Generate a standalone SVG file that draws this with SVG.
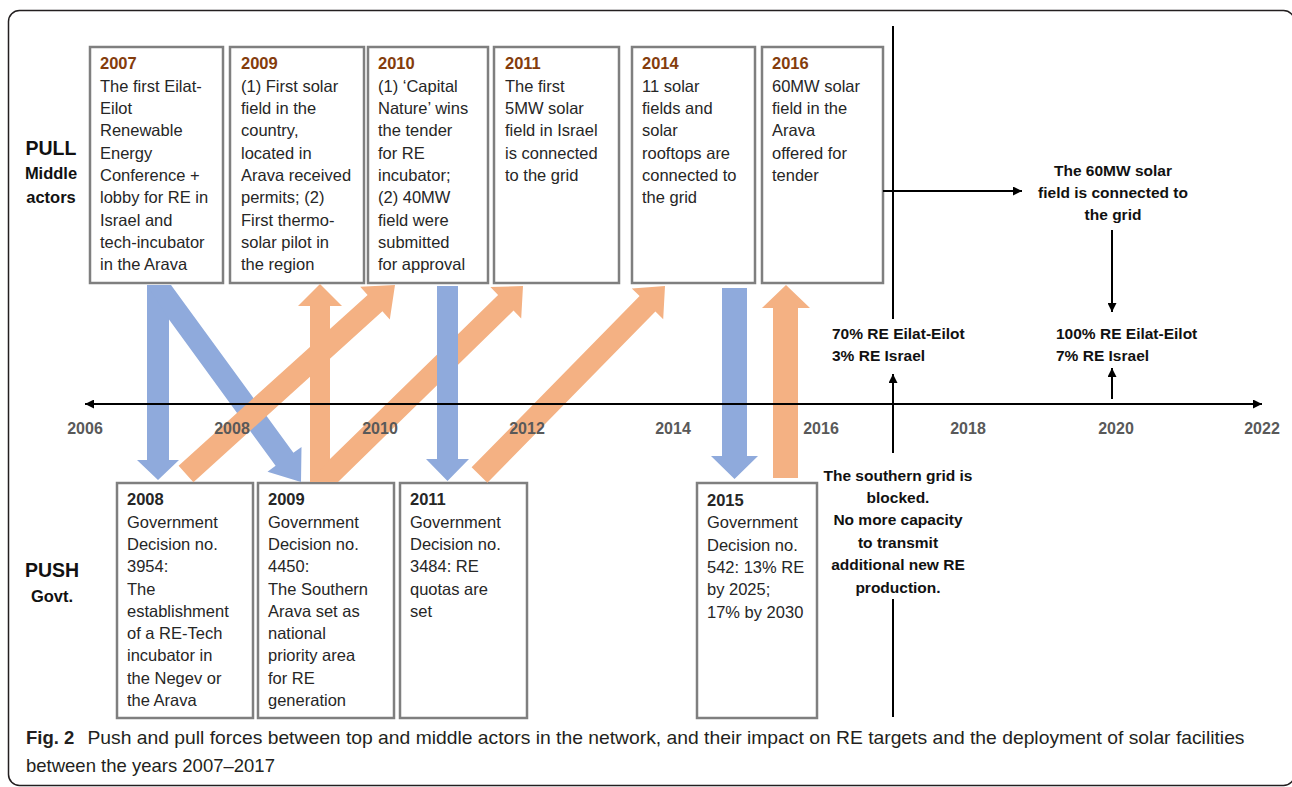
<svg xmlns="http://www.w3.org/2000/svg" width="1292" height="787" viewBox="0 0 1292 787">
<defs>
<style>
.box{fill:#fff;stroke:#7f7f7f;stroke-width:2.5}
.t{font-family:"Liberation Sans",Arial,sans-serif;font-size:16.5px;fill:#262626}
.yr{font-weight:bold;fill:#843C0C}
.yb{font-weight:bold;fill:#262626}
.b{font-family:"Liberation Sans",Arial,sans-serif;font-weight:bold;fill:#111}
.ax{font-family:"Liberation Sans",Arial,sans-serif;font-weight:bold;font-size:16px;fill:#595959;text-anchor:middle}
.blue{fill:#8FAADC}
.orange{fill:#F4B183}
.ln{stroke:#000;stroke-width:2;fill:none}
.cap{font-family:"Liberation Sans",Arial,sans-serif;font-size:18.5px;fill:#231F20}
</style>
<marker id="ah" viewBox="0 0 10 10" refX="10" refY="5" markerWidth="9" markerHeight="9" markerUnits="userSpaceOnUse" orient="auto-start-reverse"><path d="M0,0 L10,5 L0,10 z" fill="#000"/></marker>
</defs>
<rect x="8.5" y="10.5" width="1286" height="775" rx="11" fill="#fff" stroke="#231F20" stroke-width="1.5"/>

<g id="label-pull">
<text class="b" x="51" y="155" font-size="19.5" text-anchor="middle">PULL</text>
<text class="b" x="51" y="179" font-size="16.5" text-anchor="middle">Middle</text>
<text class="b" x="51" y="203" font-size="16.5" text-anchor="middle">actors</text>
</g>
<g id="label-push">
<text class="b" x="52" y="577" font-size="19.5" text-anchor="middle">PUSH</text>
<text class="b" x="52" y="602" font-size="16.5" text-anchor="middle">Govt.</text>
</g>

<g id="pull-2007">
<rect class="box" x="90" y="47" width="133" height="236"/>
<text class="t" x="100" y="69.4"><tspan class="yr">2007</tspan><tspan x="100" dy="22.33">The first Eilat-</tspan><tspan x="100" dy="22.33">Eilot</tspan><tspan x="100" dy="22.33">Renewable</tspan><tspan x="100" dy="22.33">Energy</tspan><tspan x="100" dy="22.33">Conference +</tspan><tspan x="100" dy="22.33">lobby for RE in</tspan><tspan x="100" dy="22.33">Israel and</tspan><tspan x="100" dy="22.33">tech-incubator</tspan><tspan x="100" dy="22.33">in the Arava</tspan></text>
</g>
<g id="pull-2009">
<rect class="box" x="230" y="47" width="134" height="236"/>
<text class="t" x="241" y="69.4"><tspan class="yr">2009</tspan><tspan x="241" dy="22.33">(1) First solar</tspan><tspan x="241" dy="22.33">field in the</tspan><tspan x="241" dy="22.33">country,</tspan><tspan x="241" dy="22.33">located in</tspan><tspan x="241" dy="22.33">Arava received</tspan><tspan x="241" dy="22.33">permits; (2)</tspan><tspan x="241" dy="22.33">First thermo-</tspan><tspan x="241" dy="22.33">solar pilot in</tspan><tspan x="241" dy="22.33">the region</tspan></text>
</g>
<g id="pull-2010">
<rect class="box" x="368" y="47" width="120" height="236"/>
<text class="t" x="378" y="69.4"><tspan class="yr">2010</tspan><tspan x="378" dy="22.33">(1) ‘Capital</tspan><tspan x="378" dy="22.33">Nature’ wins</tspan><tspan x="378" dy="22.33">the tender</tspan><tspan x="378" dy="22.33">for RE</tspan><tspan x="378" dy="22.33">incubator;</tspan><tspan x="378" dy="22.33">(2) 40MW</tspan><tspan x="378" dy="22.33">field were</tspan><tspan x="378" dy="22.33">submitted</tspan><tspan x="378" dy="22.33">for approval</tspan></text>
</g>
<g id="pull-2011">
<rect class="box" x="494" y="47" width="125" height="236"/>
<text class="t" x="505" y="69.4"><tspan class="yr">2011</tspan><tspan x="505" dy="22.33">The first</tspan><tspan x="505" dy="22.33">5MW solar</tspan><tspan x="505" dy="22.33">field in Israel</tspan><tspan x="505" dy="22.33">is connected</tspan><tspan x="505" dy="22.33">to the grid</tspan></text>
</g>
<g id="pull-2014">
<rect class="box" x="632" y="47" width="123" height="236"/>
<text class="t" x="642" y="69.4"><tspan class="yr">2014</tspan><tspan x="642" dy="22.33">11 solar</tspan><tspan x="642" dy="22.33">fields and</tspan><tspan x="642" dy="22.33">solar</tspan><tspan x="642" dy="22.33">rooftops are</tspan><tspan x="642" dy="22.33">connected to</tspan><tspan x="642" dy="22.33">the grid</tspan></text>
</g>
<g id="pull-2016">
<rect class="box" x="762" y="47" width="121" height="236"/>
<text class="t" x="772" y="69.4"><tspan class="yr">2016</tspan><tspan x="772" dy="22.33">60MW solar</tspan><tspan x="772" dy="22.33">field in the</tspan><tspan x="772" dy="22.33">Arava</tspan><tspan x="772" dy="22.33">offered for</tspan><tspan x="772" dy="22.33">tender</tspan></text>
</g>

<g id="push-2008">
<rect class="box" x="117" y="483" width="136" height="235"/>
<text class="t" x="127" y="505.3"><tspan class="yb">2008</tspan><tspan x="127" dy="22.3">Government</tspan><tspan x="127" dy="22.3">Decision no.</tspan><tspan x="127" dy="22.3">3954:</tspan><tspan x="127" dy="22.3">The</tspan><tspan x="127" dy="22.3">establishment</tspan><tspan x="127" dy="22.3">of a RE-Tech</tspan><tspan x="127" dy="22.3">incubator in</tspan><tspan x="127" dy="22.3">the Negev or</tspan><tspan x="127" dy="22.3">the Arava</tspan></text>
</g>
<g id="push-2009">
<rect class="box" x="258" y="483" width="136" height="235"/>
<text class="t" x="268" y="505.3"><tspan class="yb">2009</tspan><tspan x="268" dy="22.3">Government</tspan><tspan x="268" dy="22.3">Decision no.</tspan><tspan x="268" dy="22.3">4450:</tspan><tspan x="268" dy="22.3">The Southern</tspan><tspan x="268" dy="22.3">Arava set as</tspan><tspan x="268" dy="22.3">national</tspan><tspan x="268" dy="22.3">priority area</tspan><tspan x="268" dy="22.3">for RE</tspan><tspan x="268" dy="22.3">generation</tspan></text>
</g>
<g id="push-2011">
<rect class="box" x="400" y="483" width="127" height="235"/>
<text class="t" x="410" y="505.3"><tspan class="yb">2011</tspan><tspan x="410" dy="22.3">Government</tspan><tspan x="410" dy="22.3">Decision no.</tspan><tspan x="410" dy="22.3">3484: RE</tspan><tspan x="410" dy="22.3">quotas are</tspan><tspan x="410" dy="22.3">set</tspan></text>
</g>
<g id="push-2015">
<rect class="box" x="697" y="483" width="120" height="235"/>
<text class="t" x="707" y="506"><tspan class="yb">2015</tspan><tspan x="707" dy="22.3">Government</tspan><tspan x="707" dy="22.3">Decision no.</tspan><tspan x="707" dy="22.3">542: 13% RE</tspan><tspan x="707" dy="22.3">by 2025;</tspan><tspan x="707" dy="22.3">17% by 2030</tspan></text>
</g>

<g id="connectors">
<polygon class="blue" points="147,285 169,285 169,460 179,460 158,480 137,460 147,460"/>
<polygon class="blue" points="147,285 171,285 293.4,452.8 301.5,446.9 301,482 267.5,471.7 275.6,465.8 169,319.4"/>
<polygon class="orange" points="193.4,482.2 382.4,311.3 389.8,319.4 395,285 360.2,286.8 367.6,294.9 178.6,465.8"/>
<polygon class="orange" points="310,482 330,482 330,306 342,306 320,284 298,306 310,306"/>
<polygon class="orange" points="310,482 338,482 513.5,310.6 521.2,318.5 523,286 490.4,287 498.1,294.9 330,459"/>
<polygon class="blue" points="437,286 458,286 458,459 469,459 447.5,481 426,459 437,459"/>
<polygon class="orange" points="487.4,482.7 655.4,311.5 663.2,319.2 665,286 631.8,288.4 639.6,296.1 471.6,467.3"/>
<polygon class="blue" points="722,288 747,288 747,456 758,456 734.5,479 711,456 722,456"/>
<polygon class="orange" points="773,478 798,478 798,308 810,308 786,285 762,308 773,308"/>

<line class="ln" x1="85" y1="404" x2="1262" y2="404" marker-start="url(#ah)" marker-end="url(#ah)"/>
<line class="ln" x1="893" y1="26" x2="893" y2="319"/>
<line class="ln" x1="893" y1="453" x2="893" y2="374" marker-end="url(#ah)"/>
<line class="ln" x1="893" y1="599" x2="893" y2="717"/>
<line class="ln" x1="883" y1="191" x2="1022" y2="191" marker-end="url(#ah)"/>
<line class="ln" x1="1112" y1="230" x2="1112" y2="312" marker-end="url(#ah)"/>
<line class="ln" x1="1112" y1="399" x2="1112" y2="368" marker-end="url(#ah)"/>
</g>

<g id="axis-labels">
<text class="ax" x="85" y="434">2006</text>
<text class="ax" x="232" y="434">2008</text>
<text class="ax" x="380" y="434">2010</text>
<text class="ax" x="527" y="434">2012</text>
<text class="ax" x="673" y="434">2014</text>
<text class="ax" x="821" y="434">2016</text>
<text class="ax" x="968" y="434">2018</text>
<text class="ax" x="1116" y="434">2020</text>
<text class="ax" x="1262" y="434">2022</text>
</g>

<g id="note-60mw">
<text class="b" font-size="15.5" text-anchor="middle" x="1113" y="175.5"><tspan x="1113">The 60MW solar</tspan><tspan x="1113" dy="22">field is connected to</tspan><tspan x="1113" dy="22">the grid</tspan></text>
</g>
<g id="note-2017">
<text class="b" font-size="15.5" x="832" y="338.5"><tspan x="832">70% RE Eilat-Eilot</tspan><tspan x="832" dy="22.5">3% RE Israel</tspan></text>
</g>
<g id="note-2020">
<text class="b" font-size="15.5" x="1056" y="338.5"><tspan x="1056">100% RE Eilat-Eilot</tspan><tspan x="1056" dy="22.5">7% RE Israel</tspan></text>
</g>
<g id="note-grid">
<text class="b" font-size="15.5" text-anchor="middle" x="898" y="480.5"><tspan x="898">The southern grid is</tspan><tspan x="898" dy="22.4">blocked.</tspan><tspan x="898" dy="22.4">No more capacity</tspan><tspan x="898" dy="22.4">to transmit</tspan><tspan x="898" dy="22.4">additional new RE</tspan><tspan x="898" dy="22.4">production.</tspan></text>
</g>

<g id="caption">
<text class="cap" x="26" y="744" font-weight="bold">Fig. 2</text>
<text class="cap" x="87.5" y="744" textLength="1157" lengthAdjust="spacingAndGlyphs">Push and pull forces between top and middle actors in the network, and their impact on RE targets and the deployment of solar facilities</text>
<text class="cap" x="26" y="771.5">between the years 2007–2017</text>
</g>
</svg>
